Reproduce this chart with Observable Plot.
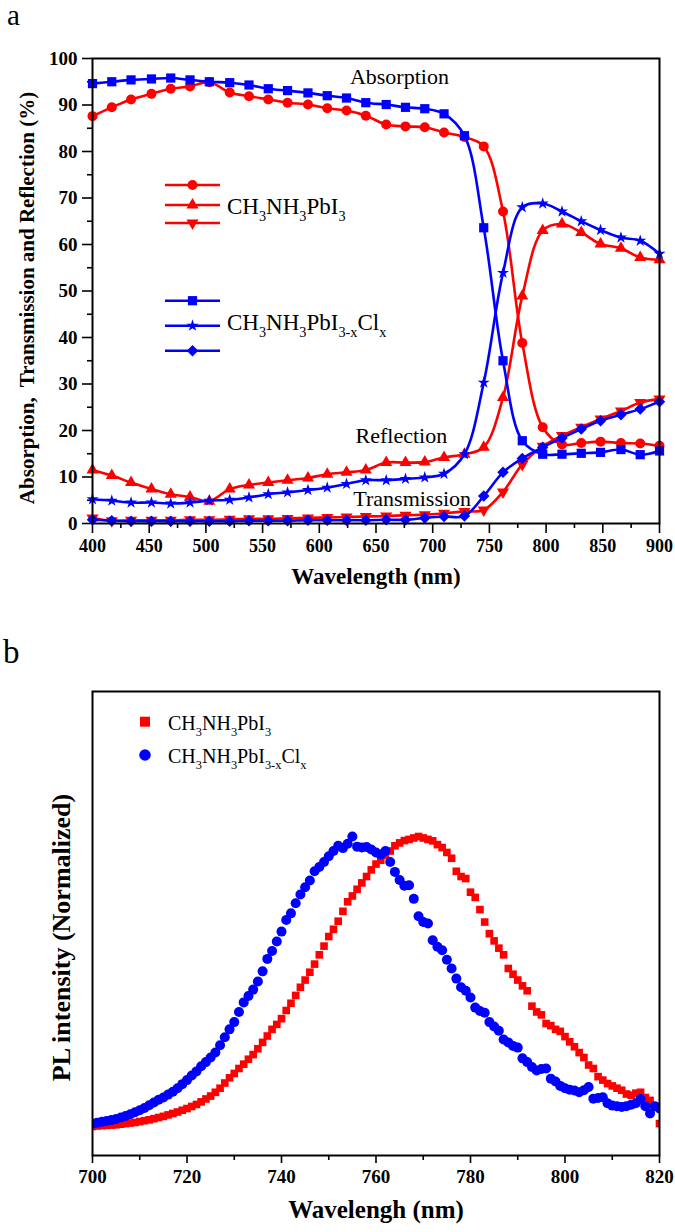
<!DOCTYPE html>
<html><head><meta charset="utf-8">
<script src="https://cdn.jsdelivr.net/npm/d3@7"></script>
<script src="https://cdn.jsdelivr.net/npm/@observablehq/plot@0.6"></script>
<style>
body{margin:0;background:#fff;}
#wrap{position:relative;width:675px;height:1232px;overflow:hidden;}
.panel{position:absolute;left:0;}
</style></head><body>
<div id="wrap">
 <div id="pa" class="panel" style="top:0"></div>
 <div id="pb" class="panel" style="top:620px"></div>
</div>
<script>
// ---------- Panel a data ----------
const wavelengthA = [400, 417, 434, 452, 469, 486, 503, 521, 538, 555, 572, 590, 607, 624, 641, 659, 676, 693, 710, 728, 745, 762, 779, 797, 814, 831, 848, 866, 883, 900];
const absorptionPbI3 = [87.6, 89.5, 91.2, 92.4, 93.5, 94.0, 94.9, 92.7, 91.9, 91.2, 90.5, 90.1, 89.3, 88.8, 87.7, 85.8, 85.4, 85.2, 84.1, 83.1, 81.1, 67.1, 38.8, 20.7, 17.0, 17.3, 17.6, 17.3, 17.2, 16.7];
const reflectionPbI3 = [11.5, 10.3, 8.8, 7.4, 6.3, 5.7, 4.8, 7.4, 8.3, 8.8, 9.3, 9.8, 10.6, 11.0, 11.5, 13.1, 13.1, 13.2, 14.2, 14.9, 16.4, 27.1, 48.9, 63.0, 64.4, 62.6, 60.1, 59.2, 57.2, 56.7];
const transmissionPbI3 = [1.2, 0.6, 0.7, 0.7, 0.7, 0.8, 0.8, 0.9, 1.0, 1.0, 1.1, 1.2, 1.3, 1.4, 1.5, 1.6, 1.8, 1.9, 2.2, 2.6, 2.9, 6.8, 12.7, 16.6, 18.9, 20.7, 22.5, 24.2, 26.0, 26.8];
const absorptionCl = [94.6, 95.0, 95.4, 95.6, 95.8, 95.4, 95.0, 94.8, 94.3, 93.5, 93.1, 92.6, 92.0, 91.5, 90.5, 90.1, 89.5, 89.2, 88.1, 83.4, 63.6, 35.0, 17.8, 14.9, 14.9, 15.1, 15.3, 15.9, 14.8, 15.6];
const reflectionCl = [5.2, 4.9, 4.5, 4.5, 4.3, 4.5, 4.9, 5.1, 5.6, 6.3, 6.7, 7.2, 7.7, 8.5, 9.3, 9.3, 9.6, 9.9, 10.7, 14.9, 30.3, 53.9, 68.0, 68.8, 67.1, 65.0, 63.1, 61.5, 60.8, 58.0];
const transmissionCl = [0.8, 0.6, 0.5, 0.5, 0.5, 0.5, 0.5, 0.5, 0.6, 0.6, 0.6, 0.7, 0.7, 0.7, 0.7, 0.8, 0.8, 1.2, 1.5, 1.6, 5.9, 11.0, 14.0, 16.4, 18.4, 20.3, 22.1, 23.4, 24.6, 26.2];

const xTicksA = [400, 450, 500, 550, 600, 650, 700, 750, 800, 850, 900];
const xMinorA = [425, 475, 525, 575, 625, 675, 725, 775, 825, 875];
const yTicksA = [0, 10, 20, 30, 40, 50, 60, 70, 80, 90, 100];
const yMinorA = [5, 15, 25, 35, 45, 55, 65, 75, 85, 95];

const annotText = ["Absorption", "Reflection", "Transmission"];
const annotX = [627, 632, 630];
const annotY = [96.1, 18.9, 5.3];

// ---------- Panel b data ----------
const wavelengthB = [700,701,702,703,704,705,706,707,708,709,710,711,712,713,714,715,716,717,718,719,720,721,722,723,724,725,726,727,728,729,730,731,732,733,734,735,736,737,738,739,740,741,742,743,744,745,746,747,748,749,750,751,752,753,754,755,756,757,758,759,760,761,762,763,764,765,766,767,768,769,770,771,772,773,774,775,776,777,778,779,780,781,782,783,784,785,786,787,788,789,790,791,792,793,794,795,796,797,798,799,800,801,802,803,804,805,806,807,808,809,810,811,812,813,814,815,816,817,818,819,820];
const plPbI3 = [0.000,0.002,0.003,0.004,0.005,0.006,0.008,0.010,0.012,0.014,0.017,0.020,0.023,0.027,0.031,0.035,0.040,0.045,0.050,0.056,0.062,0.069,0.076,0.085,0.095,0.105,0.118,0.132,0.150,0.168,0.183,0.200,0.215,0.232,0.248,0.268,0.290,0.312,0.335,0.352,0.372,0.400,0.425,0.452,0.480,0.505,0.532,0.560,0.592,0.622,0.655,0.680,0.708,0.742,0.775,0.795,0.818,0.840,0.862,0.885,0.905,0.918,0.935,0.950,0.968,0.978,0.986,0.990,0.995,1.000,0.995,0.990,0.985,0.972,0.962,0.945,0.925,0.880,0.862,0.855,0.808,0.790,0.748,0.705,0.665,0.640,0.615,0.592,0.545,0.525,0.505,0.485,0.468,0.415,0.395,0.385,0.355,0.348,0.335,0.328,0.310,0.292,0.275,0.255,0.238,0.212,0.200,0.172,0.160,0.148,0.140,0.132,0.125,0.112,0.108,0.115,0.118,0.100,0.090,0.070,0.010];
const plCl = [0.010,0.013,0.016,0.019,0.022,0.026,0.031,0.036,0.042,0.049,0.056,0.064,0.073,0.083,0.092,0.100,0.110,0.120,0.132,0.146,0.160,0.176,0.190,0.208,0.222,0.238,0.255,0.280,0.308,0.335,0.360,0.395,0.428,0.450,0.472,0.500,0.535,0.578,0.605,0.638,0.672,0.712,0.735,0.770,0.800,0.825,0.848,0.880,0.895,0.912,0.932,0.950,0.968,0.960,0.975,1.000,0.965,0.962,0.964,0.955,0.945,0.938,0.950,0.912,0.878,0.850,0.830,0.832,0.785,0.725,0.705,0.700,0.642,0.620,0.608,0.575,0.545,0.510,0.480,0.468,0.445,0.410,0.398,0.392,0.360,0.345,0.330,0.300,0.290,0.278,0.272,0.235,0.222,0.205,0.193,0.198,0.200,0.165,0.155,0.140,0.132,0.127,0.124,0.118,0.125,0.136,0.096,0.098,0.101,0.080,0.072,0.070,0.067,0.070,0.075,0.080,0.095,0.070,0.045,0.070,0.062];
const xTicksB = [700, 720, 740, 760, 780, 800, 820];
const xMinorB = [710, 730, 750, 770, 790, 810];

const RED = "#ff0000", BLUE = "#0000ff";
const SERIF = "Liberation Serif, Times New Roman, serif";

// ---------- Panel a ----------
const seriesA = [
  {y: absorptionPbI3, color: RED, symbol: "circle", r: 5, rotate: 0},
  {y: reflectionPbI3, color: RED, symbol: "triangle", r: 4.5, rotate: 0},
  {y: transmissionPbI3, color: RED, symbol: "triangle", r: 4.5, rotate: 180},
  {y: absorptionCl, color: BLUE, symbol: "square", r: 5.2, rotate: 0},
  {y: reflectionCl, color: BLUE, symbol: "star", r: 3.8, rotate: 0},
  {y: transmissionCl, color: BLUE, symbol: "square", r: 4.6, rotate: 45}
];
const seriesMarks = seriesA.flatMap(s => [
  Plot.line(s.y, {x: wavelengthA, y: s.y, stroke: s.color, strokeWidth: 2.6, curve: "catmull-rom"}),
  Plot.dot(s.y, {x: wavelengthA, y: s.y, fill: s.color, symbol: s.symbol, r: s.r, rotate: s.rotate})
]);

const chartA = Plot.plot({
  width: 675, height: 610,
  marginLeft: 92, marginRight: 16, marginTop: 58, marginBottom: 87,
  style: {fontFamily: SERIF, fontWeight: "bold", background: "white", overflow: "visible"},
  x: {domain: [400, 900]},
  y: {domain: [0, 100]},
  marks: [
    Plot.axisX({ticks: xTicksA, tickSize: 10, tickPadding: 6, fontSize: 18, strokeWidth: 1.6, label: null}),
    Plot.axisX({ticks: xMinorA, tickSize: 5, strokeWidth: 1.6, tickFormat: () => "", label: null}),
    Plot.axisY({ticks: yTicksA, tickSize: 10, tickPadding: 5, fontSize: 19, strokeWidth: 1.6, label: null}),
    Plot.axisY({ticks: yMinorA, tickSize: 5, strokeWidth: 1.6, tickFormat: () => "", label: null}),
    ...seriesMarks,
    Plot.frame({stroke: "black", strokeWidth: 2}),
    Plot.text(annotText, {x: annotX, y: annotY, text: d => d, textAnchor: "start", fontSize: 22, fontWeight: "normal", fill: "black"}),
    Plot.text(["Wavelength (nm)"], {frameAnchor: "bottom", textAnchor: "middle", dy: 60, fontSize: 23, fontWeight: "bold"}),
    Plot.text(["Absorption,\u00a0 Transmission and Reflection (%)"], {frameAnchor: "left", textAnchor: "middle", dx: -65, dy: 7, rotate: -90, fontSize: 21, fontWeight: "bold"})
  ]
});
document.getElementById("pa").appendChild(chartA);

// ---------- helpers for legends ----------
function legendLine(svg, x1, x2, y, color, symbol, r, rotate) {
  svg.append("line").attr("x1", x1).attr("x2", x2).attr("y1", y).attr("y2", y)
    .attr("stroke", color).attr("stroke-width", 2.6);
  svg.append("path").attr("d", d3.symbol(symbol, Math.PI * r * r)())
    .attr("transform", `translate(${(x1 + x2) / 2},${y}) rotate(${rotate})`).attr("fill", color);
}
function chemText(svg, x, y, parts, size) {
  const t = svg.append("text").attr("x", x).attr("y", y).attr("font-size", size)
    .attr("text-anchor", "start").attr("font-weight", "normal").attr("font-family", SERIF).attr("fill", "black");
  let sub = false;
  parts.forEach(([s, isSub]) => {
    const ts = t.append("tspan").text(s);
    if (isSub) ts.attr("font-size", size * 0.62);
    if (isSub && !sub) ts.attr("dy", size * 0.3);
    if (!isSub && sub) ts.attr("dy", -size * 0.3);
    sub = isSub;
  });
}
const formulaPbI3 = [["CH", false], ["3", true], ["NH", false], ["3", true], ["PbI", false], ["3", true]];
const formulaCl = [["CH", false], ["3", true], ["NH", false], ["3", true], ["PbI", false], ["3-x", true], ["Cl", false], ["x", true]];

const svgA = d3.select(chartA);
svgA.append("text").attr("x", 7).attr("y", 25).attr("font-size", 29).attr("font-weight", "normal")
  .attr("text-anchor", "start").attr("font-family", SERIF).text("a");
legendLine(svgA, 165, 220, 185, RED, d3.symbolCircle, 5, 0);
legendLine(svgA, 165, 220, 205, RED, d3.symbolTriangle, 4.5, 0);
legendLine(svgA, 165, 220, 223, RED, d3.symbolTriangle, 4.5, 180);
chemText(svgA, 227, 214, formulaPbI3, 23);
legendLine(svgA, 165, 220, 300.7, BLUE, d3.symbolSquare, 5.2, 0);
legendLine(svgA, 165, 220, 325.7, BLUE, d3.symbolStar, 3.8, 0);
legendLine(svgA, 165, 220, 350.7, BLUE, d3.symbolSquare, 4.6, 45);
chemText(svgA, 227, 330, formulaCl, 23);

// ---------- Panel b ----------
const chartB = Plot.plot({
  width: 675, height: 612,
  marginLeft: 92, marginRight: 16, marginTop: 71, marginBottom: 77,
  style: {fontFamily: SERIF, fontWeight: "bold", background: "white", overflow: "visible"},
  x: {domain: [700, 820]},
  y: {domain: [-0.1, 1.5], axis: null},
  marks: [
    Plot.axisX({ticks: xTicksB, tickSize: 8, tickPadding: 6, fontSize: 19, strokeWidth: 1.6, label: null}),
    Plot.axisX({ticks: xMinorB, tickSize: 5, strokeWidth: 1.6, tickFormat: () => "", label: null}),
    Plot.dot(plPbI3, {x: wavelengthB, y: plPbI3, symbol: "square", r: 4.3, fill: RED, clip: true}),
    Plot.dot(plCl, {x: wavelengthB, y: plCl, symbol: "circle", r: 5, fill: BLUE, clip: true}),
    Plot.frame({stroke: "black", strokeWidth: 2}),
    Plot.text(["Wavelengh (nm)"], {frameAnchor: "bottom", textAnchor: "middle", dy: 62, fontSize: 25, fontWeight: "bold"}),
    Plot.text(["PL intensity (Normalized)"], {frameAnchor: "left", textAnchor: "middle", dx: -31, dy: 14, rotate: -90, fontSize: 26, fontWeight: "bold"})
  ]
});
document.getElementById("pb").appendChild(chartB);
const svgB = d3.select(chartB);
svgB.append("text").attr("x", 3).attr("y", 43).attr("font-size", 33).attr("font-weight", "normal")
  .attr("text-anchor", "start").attr("font-family", SERIF).text("b");
svgB.append("path").attr("d", d3.symbol(d3.symbolSquare, 100)()).attr("transform", "translate(145,101.7)").attr("fill", RED);
svgB.append("path").attr("d", d3.symbol(d3.symbolCircle, Math.PI * 5.8 * 5.8)()).attr("transform", "translate(145,135)").attr("fill", BLUE);
chemText(svgB, 168, 110, formulaPbI3, 20);
chemText(svgB, 168, 143, formulaCl, 20);
</script>
</body></html>
